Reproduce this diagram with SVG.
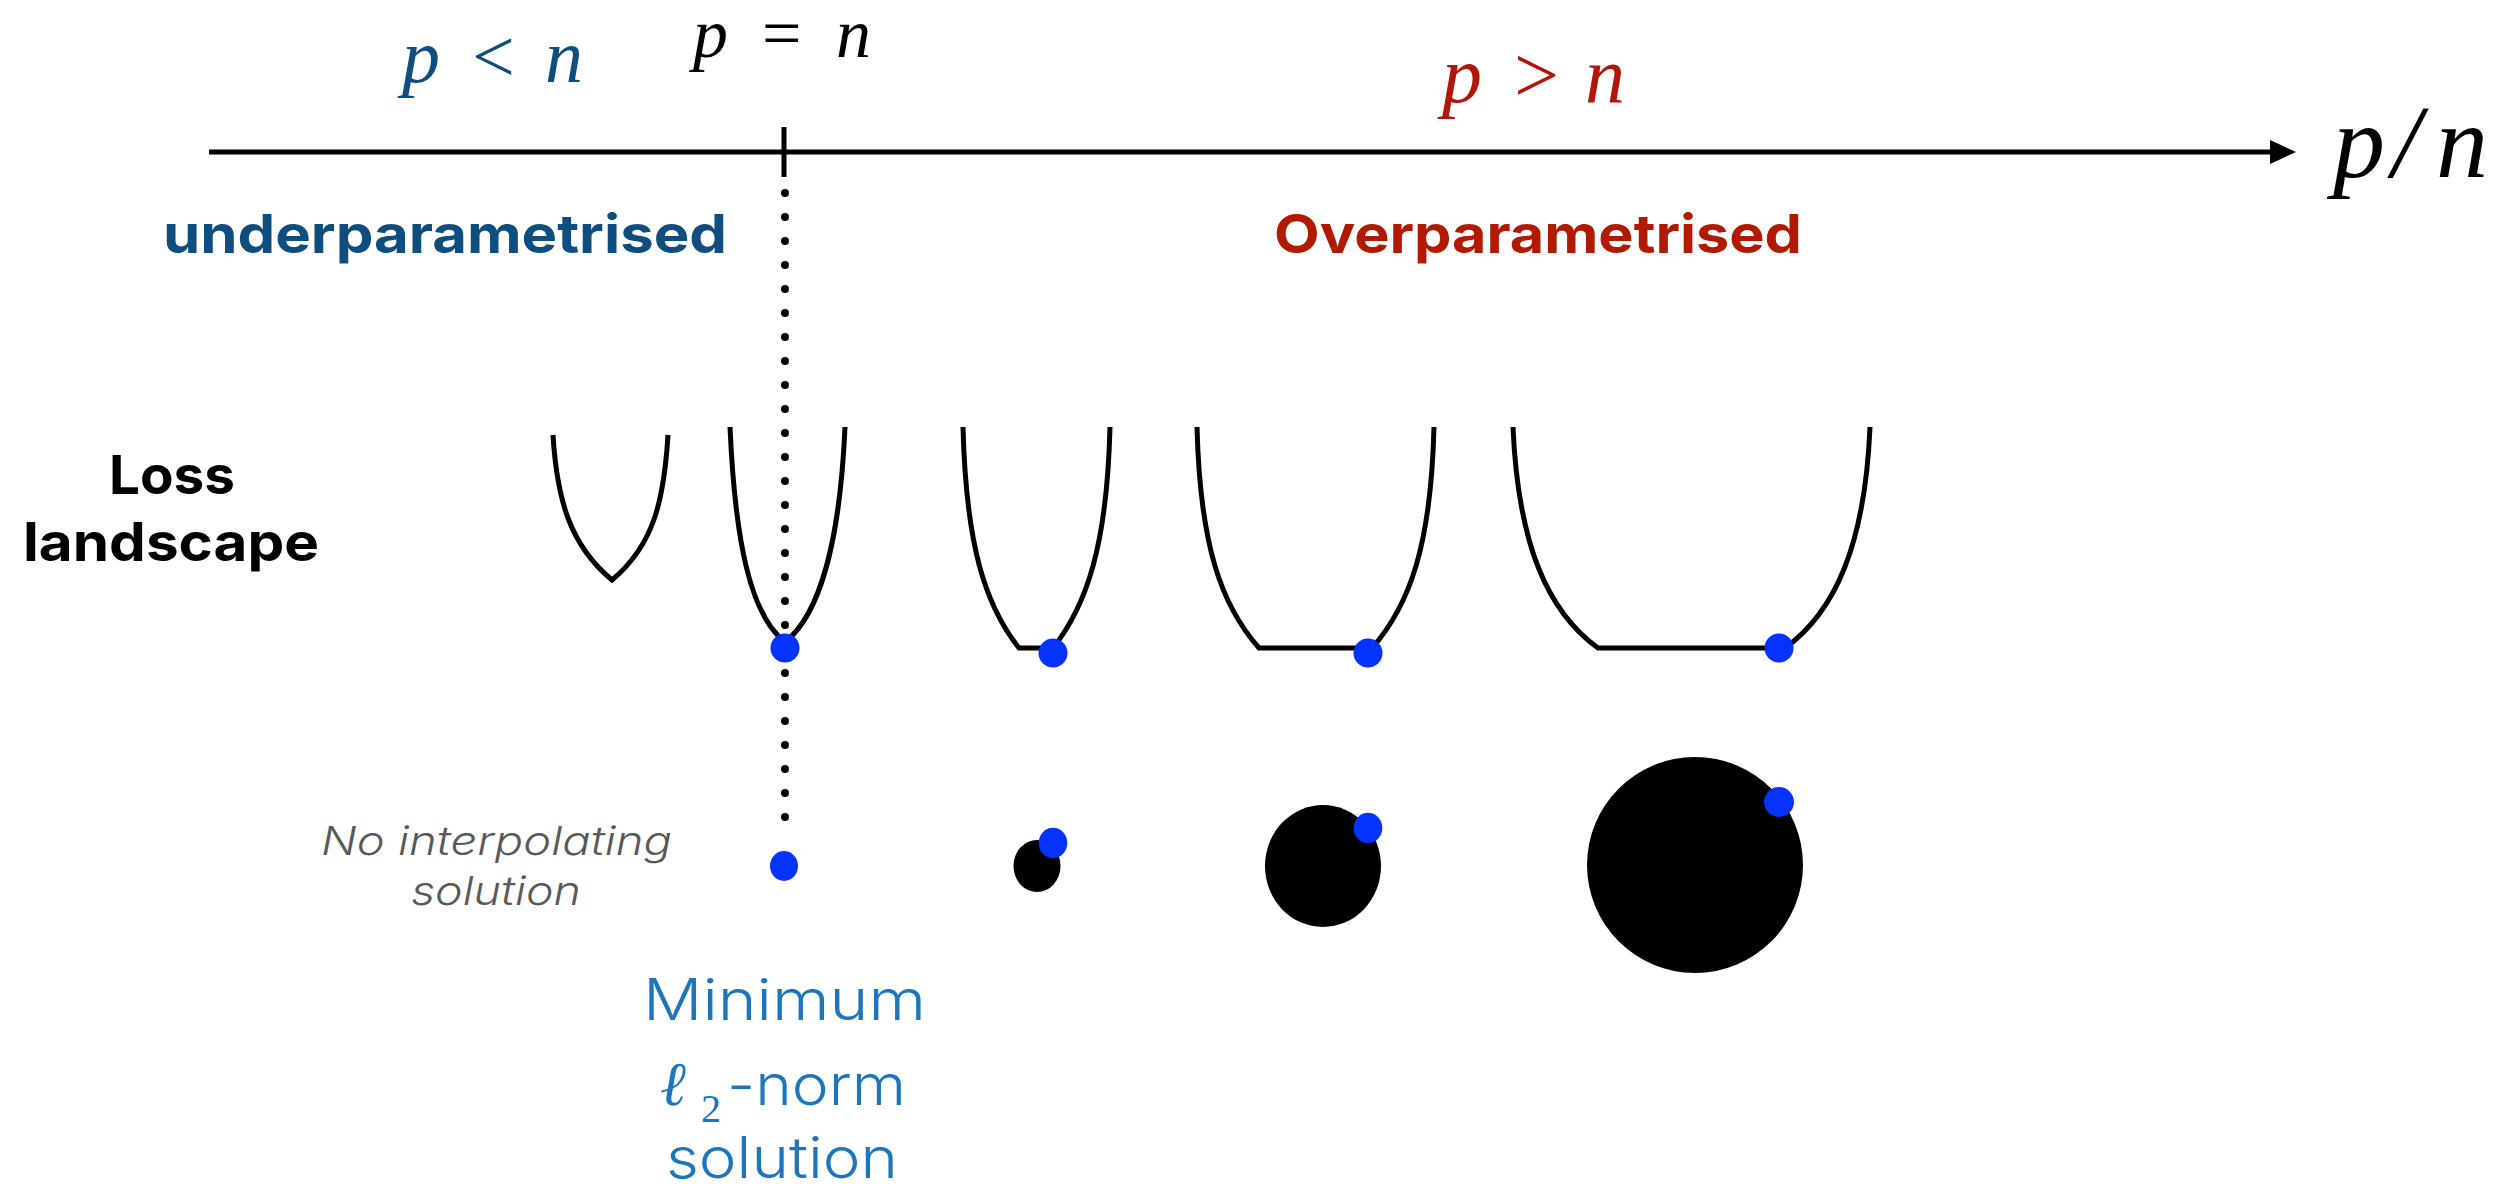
<svg xmlns="http://www.w3.org/2000/svg" width="2520" height="1187" viewBox="0 0 2520 1187">
<style>
.math{font-family:"Liberation Serif","Times New Roman",serif;font-style:italic}
.up{font-style:normal}
.bold{font-family:Inter,"Open Sans","Liberation Sans",sans-serif;font-weight:700}
.light{font-family:Inter,"Open Sans","Liberation Sans",sans-serif;font-weight:300}
.curve{fill:none;stroke:#000;stroke-width:5;stroke-linejoin:miter}
.dot{fill:#0433FF}
</style>
<rect width="2520" height="1187" fill="#fff"/>
<g id="connectors">
  <line x1="209" y1="152" x2="2272" y2="152" stroke="#000" stroke-width="5"/>
  <polygon points="2270,140 2296,152 2270,164" fill="#000"/>
  <line x1="784" y1="127" x2="784" y2="177" stroke="#000" stroke-width="5"/>
  <line x1="785" y1="193" x2="785" y2="818" stroke="#000" stroke-width="8" stroke-linecap="round" stroke-dasharray="0 24"/>
</g>
<g id="axis-labels">
  <text class="math" font-size="76" fill="#0d4e7e" y="82"><tspan x="402">p</tspan><tspan class="up" x="472">&lt;</tspan><tspan x="545">n</tspan></text>
  <text class="math" font-size="70" fill="#000" y="57"><tspan x="693">p</tspan><tspan class="up" x="762">=</tspan><tspan x="836">n</tspan></text>
  <text class="math" font-size="80" fill="#b2160a" y="102"><tspan x="1442">p</tspan><tspan class="up" x="1514">&gt;</tspan><tspan x="1585">n</tspan></text>
  <text class="math" font-size="104" fill="#000" y="177"><tspan x="2333">p</tspan><tspan x="2392">/</tspan><tspan x="2436">n</tspan></text>
  <text class="bold" font-size="54" fill="#0d4e7e" x="163" y="253" textLength="564" lengthAdjust="spacingAndGlyphs">underparametrised</text>
  <text class="bold" font-size="54" fill="#b11a00" x="1274" y="253" textLength="528" lengthAdjust="spacingAndGlyphs">Overparametrised</text>
</g>
<g id="loss-label">
  <text class="bold" font-size="54" fill="#000" x="109" y="494" textLength="126" lengthAdjust="spacingAndGlyphs">Loss</text>
  <text class="bold" font-size="54" fill="#000" x="23" y="561" textLength="296" lengthAdjust="spacingAndGlyphs">landscape</text>
</g>
<g id="landscape-1">
  <path class="curve" d="M553,435 C557,500 570,545 612,580 C654,545 664,500 668,435"/>
</g>
<g id="landscape-2">
  <path class="curve" d="M730,427 C735,540 750,615 785,642 C820,615 840,540 845,427"/>
  <circle class="dot" cx="785" cy="648" r="14.5"/>
</g>
<g id="landscape-3">
  <path class="curve" d="M963,427 C966,545 985,605 1019,648 L1053,648 C1087,605 1107,545 1110,427"/>
  <circle class="dot" cx="1053" cy="653" r="14.5"/>
</g>
<g id="landscape-4">
  <path class="curve" d="M1197,427 C1200,545 1221,605 1259,648 L1372,648 C1410,605 1431,545 1434,427"/>
  <circle class="dot" cx="1368" cy="653" r="14.5"/>
</g>
<g id="landscape-5">
  <path class="curve" d="M1513,427 C1518,545 1548,612 1598,648 L1785,648 C1835,612 1865,545 1870,427"/>
  <circle class="dot" cx="1779" cy="648" r="14.5"/>
</g>
<g id="solution-1">
  <text class="light" font-style="italic" font-size="40" fill="#595959" x="321" y="855" textLength="351" lengthAdjust="spacingAndGlyphs">No interpolating</text>
  <text class="light" font-style="italic" font-size="40" fill="#595959" x="411" y="905" textLength="170" lengthAdjust="spacingAndGlyphs">solution</text>
  <ellipse class="dot" cx="784" cy="866" rx="14" ry="15"/>
</g>
<g id="solution-2">
  <ellipse cx="1037" cy="866" rx="23.5" ry="26" fill="#000"/>
  <ellipse class="dot" cx="1053" cy="843" rx="14.3" ry="15.3"/>
</g>
<g id="solution-3">
  <ellipse cx="1323" cy="866" rx="58" ry="61" fill="#000"/>
  <ellipse class="dot" cx="1368" cy="828" rx="14.3" ry="15.3"/>
</g>
<g id="solution-4">
  <circle cx="1695" cy="865" r="108" fill="#000"/>
  <circle class="dot" cx="1779" cy="802" r="15"/>
</g>
<g id="min-norm-label">
  <text class="light" font-size="57" fill="#1d75bc" x="643" y="1020" textLength="283" lengthAdjust="spacingAndGlyphs">Minimum</text>
  <text class="math" font-size="62" fill="#1d75bc" x="660" y="1105">ℓ</text>
  <text font-family="Liberation Serif, serif" font-size="40" fill="#1d75bc" x="701" y="1122">2</text>
  <text class="light" font-size="57" fill="#1d75bc" x="727" y="1105" textLength="179" lengthAdjust="spacingAndGlyphs">-norm</text>
  <text class="light" font-size="57" fill="#1d75bc" x="666" y="1178" textLength="232" lengthAdjust="spacingAndGlyphs">solution</text>
</g>
</svg>
